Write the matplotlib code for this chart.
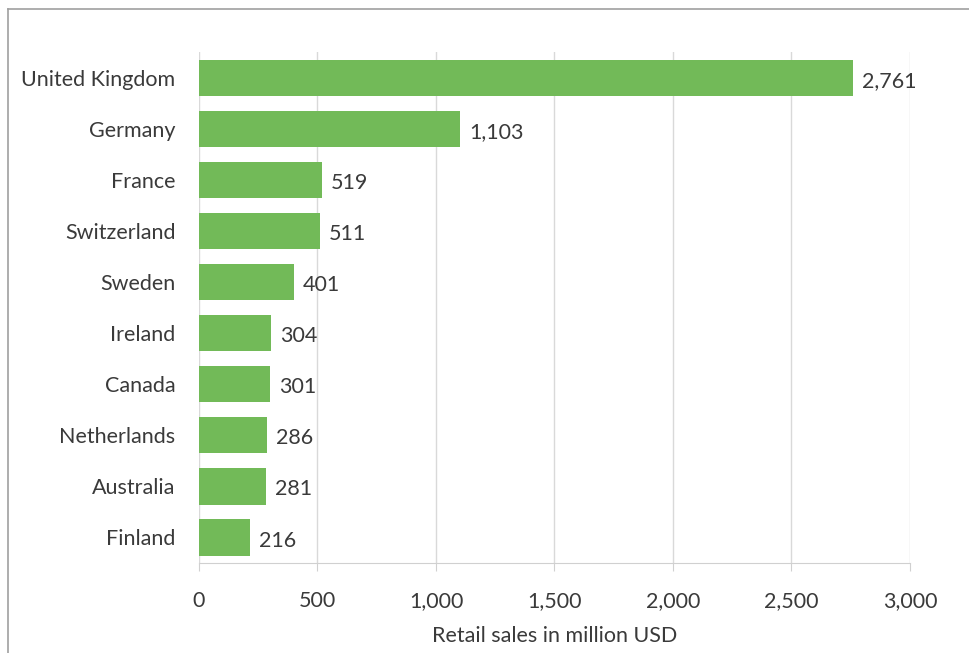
import matplotlib.pyplot as plt
from matplotlib.lines import Line2D
from matplotlib.ticker import FuncFormatter

countries = ["United Kingdom", "Germany", "France", "Switzerland", "Sweden",
             "Ireland", "Canada", "Netherlands", "Australia", "Finland"]
sales = [2761, 1103, 519, 511, 401, 304, 301, 286, 281, 216]
xticks = [0, 500, 1000, 1500, 2000, 2500, 3000]

plt.rcParams['font.family'] = ['Lato', 'DejaVu Sans']
txt = '#3a3a3a'
fs = 15.5

fig = plt.figure(figsize=(9.7, 6.53), dpi=100)
ax = fig.add_axes([199 / 970, 0.1378, 711 / 970, 0.7822])

pos = list(range(len(countries)))
bars = ax.barh(pos, sales, height=0.71, color='#72ba58', zorder=3)
for b, v in zip(bars, sales):
    ax.text(b.get_width() + 38, b.get_y() + b.get_height() / 2 + 0.06,
            f'{v:,}', va='center', ha='left', fontsize=fs, color=txt)

ax.set_xlim(0, 3000)
ax.set_ylim(9.5, -0.5)
ax.set_xticks(xticks)
ax.xaxis.set_major_formatter(FuncFormatter(lambda x, p: f'{int(x):,}'))
ax.set_yticks(pos)
ax.set_yticklabels(countries)
ax.tick_params(axis='y', length=0, pad=17, labelsize=fs, labelcolor=txt)
ax.tick_params(axis='x', length=6, color='#d0d0d0', pad=14, labelsize=fs, labelcolor=txt)

ax.grid(axis='x', color='#d9d9d9', linewidth=1, zorder=0)
for s in ['top', 'right', 'left']:
    ax.spines[s].set_visible(False)
ax.spines['bottom'].set_color('#d0d0d0')

ax.set_xlabel('Retail sales in million USD', fontsize=fs, color=txt, labelpad=11)

# thin frame along the top and left edges
fig.add_artist(Line2D([8 / 970, 1], [1 - 9 / 653, 1 - 9 / 653], color='#a0a0a0', lw=1.2))
fig.add_artist(Line2D([8 / 970, 8 / 970], [0, 1 - 9 / 653], color='#a0a0a0', lw=1.2))

fig.savefig('out.png', dpi=100)
